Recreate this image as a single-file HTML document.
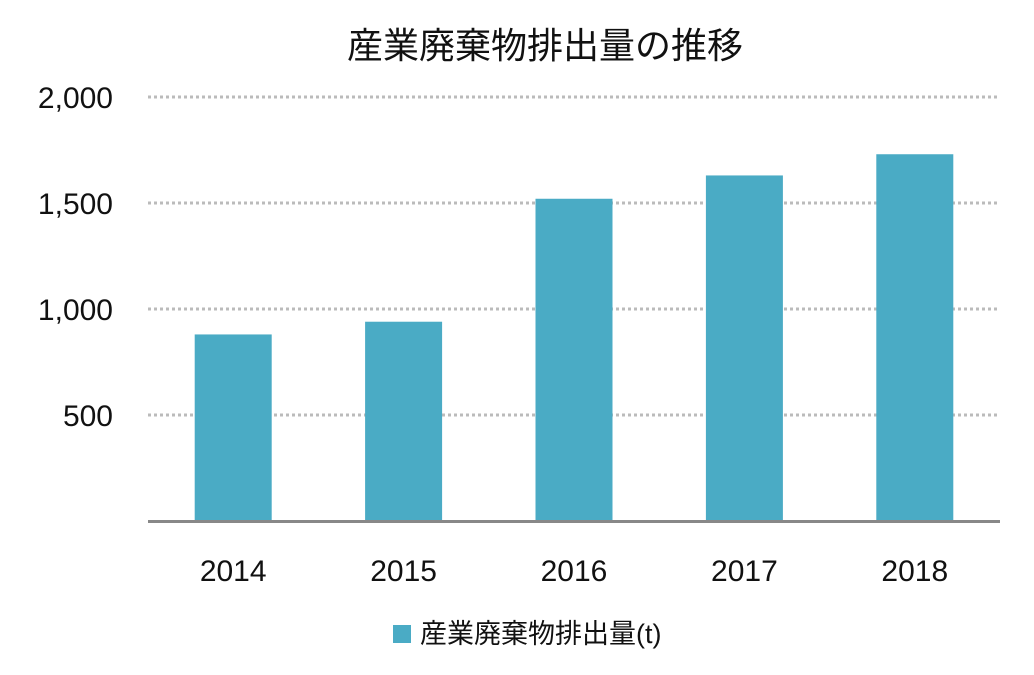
<!DOCTYPE html>
<html><head><meta charset="utf-8">
<style>
html,body{margin:0;padding:0;background:#fff;}
body{width:1034px;height:670px;overflow:hidden;font-family:"Liberation Sans","Noto Sans CJK JP",sans-serif;}
</style></head>
<body>
<svg id="chart" width="1034" height="670" xmlns="http://www.w3.org/2000/svg">
<text x="545" y="58" text-anchor="middle" font-size="36" fill="#111" font-family="Liberation Sans, Noto Sans CJK JP, sans-serif">産業廃棄物排出量の推移</text>
<g id="grid"></g>
<g id="bars"></g>
<g id="xlabels"></g>
<line x1="148" y1="521.5" x2="1000" y2="521.5" stroke="#888" stroke-width="3"/>
<rect x="393" y="625" width="18" height="18" fill="#4AABC5"/>
<text x="420" y="643" font-size="27" fill="#111" font-family="Liberation Sans, Noto Sans CJK JP, sans-serif">産業廃棄物排出量(t)</text>
</svg>
<script>
const categories = ["2014","2015","2016","2017","2018"];
const values = [880, 940, 1520, 1630, 1730];
const yTicks = [500, 1000, 1500, 2000];
const yTickLabels = ["500","1,000","1,500","2,000"];

const NS="http://www.w3.org/2000/svg";
const plotLeft=148, plotRight=1000, y0=521, yMaxPx=97, yMax=2000;
function yScale(v){return y0-(v/yMax)*(y0-yMaxPx);}
const band=(plotRight-plotLeft)/categories.length;
function xCenter(i){return plotLeft+band*(i+0.5);}
const barW=77;

const grid=document.getElementById('grid');
yTicks.forEach((t,i)=>{
  const l=document.createElementNS(NS,'line');
  
  
  l.setAttribute('x1',plotLeft);l.setAttribute('x2',plotRight);
  l.setAttribute('y1',yScale(t));l.setAttribute('y2',yScale(t));
  l.setAttribute('stroke','#bbb');l.setAttribute('stroke-width','3');
  l.setAttribute('stroke-dasharray','3 3');
  grid.appendChild(l);
  const tx=document.createElementNS(NS,'text');
  
  
  tx.setAttribute('x',113);tx.setAttribute('y',yScale(t)+11);
  tx.setAttribute('text-anchor','end');tx.setAttribute('font-size','30');
  tx.setAttribute('fill','#111');
  tx.textContent=yTickLabels[i];
  grid.appendChild(tx);
});
const bars=document.getElementById('bars');
const xl=document.getElementById('xlabels');
categories.forEach((c,i)=>{
  const r=document.createElementNS(NS,'rect');
  
  
  r.setAttribute('x',xCenter(i)-barW/2);r.setAttribute('width',barW);
  r.setAttribute('y',yScale(values[i]));r.setAttribute('height',y0-yScale(values[i]));
  r.setAttribute('fill','#4AABC5');
  bars.appendChild(r);
  const t=document.createElementNS(NS,'text');
  
  
  t.setAttribute('x',xCenter(i));t.setAttribute('y',581);
  t.setAttribute('text-anchor','middle');t.setAttribute('font-size','30');
  t.setAttribute('fill','#111');
  t.textContent=c;
  xl.appendChild(t);
});
</script>
</body></html>
